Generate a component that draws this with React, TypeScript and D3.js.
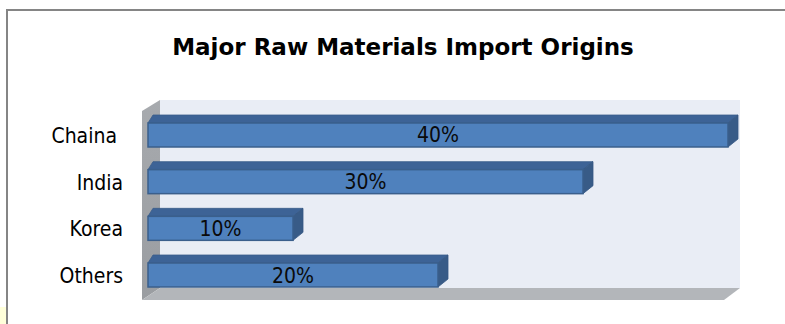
import React from "react";
import * as d3 from "d3";

const categories = ["Chaina ", "India", "Korea", "Others"];
const values = [40, 30, 10, 20];
const valueLabels = ["40%", "30%", "10%", "20%"];
const title = "Major Raw Materials Import Origins";
const xMax = 40;

const W = 785;
const H = 324;
const FONT = "'DejaVu Sans Condensed', 'DejaVu Sans', Tahoma, sans-serif";
const TITLE_FONT = "'DejaVu Sans', Tahoma, sans-serif";

export default function App() {
  const x = d3.scaleLinear().domain([0, xMax]).range([148, 728]);
  const y = d3.scaleBand<string>().domain(categories).range([123, 287]).paddingInner(0.486).paddingOuter(0);
  const bw = y.bandwidth();

  const wallLeft = 160;
  const wallRight = x(xMax) + 12;
  const wallTop = 100;
  const wallBottom = 288;
  const depthX = 18;
  const depthY = 12;

  const line = d3.line();

  const leftWall = line([
    [wallLeft - depthX, wallTop + 11],
    [wallLeft, wallTop],
    [wallLeft, wallBottom],
    [wallLeft - depthX, wallBottom + depthY],
  ]) + "Z";
  const floor = line([
    [wallLeft - depthX, wallBottom + depthY],
    [wallLeft, wallBottom],
    [wallRight, wallBottom],
    [wallRight - 16, wallBottom + depthY],
  ]) + "Z";

  return (
    <svg width={W} height={H} style={{ position: "absolute", left: 0, top: 0, background: "#fff" }}>
      <defs>
        <linearGradient id="lw" x1="0" y1="0" x2="0" y2="1">
          <stop offset="0" stopColor="#A7AAAE" />
          <stop offset="1" stopColor="#9A9DA1" />
        </linearGradient>
      </defs>
      <rect x={0} y={307} width={7} height={17} fill="#FFFFDA" />
      <rect x={7} y={10} width={800} height={400} fill="#fff" stroke="#858585" strokeWidth={2} />
      <text x={403} y={55} textAnchor="middle" fontFamily={TITLE_FONT} fontWeight="bold" fontSize={23} fill="#000">
        {title}
      </text>

      <rect x={wallLeft} y={wallTop} width={wallRight - wallLeft} height={wallBottom - wallTop} fill="#E9EDF5" />
      <path d={leftWall} fill="url(#lw)" />
      <path d={floor} fill="#B3B6BA" />

      {categories.map((c, i) => {
        const y0 = y(c)!;
        const x0 = x(0);
        const x1 = x(values[i]);
        const top = line([
          [x0, y0],
          [x0 + 5, y0 - 8],
          [x1 + 10, y0 - 8],
          [x1, y0],
        ]) + "Z";
        const side = line([
          [x1, y0],
          [x1 + 10, y0 - 8],
          [x1 + 10, y0 + bw - 8],
          [x1, y0 + bw],
        ]) + "Z";
        return (
          <g key={c}>
            <path d={top} fill="#3D6396" stroke="#3A5D8A" strokeWidth={0.8} />
            <path d={side} fill="#385B87" stroke="#355783" strokeWidth={0.8} />
            <rect x={x0} y={y0} width={x1 - x0} height={bw} fill="#4F81BD" stroke="#3A5F8C" strokeWidth={1.5} />
            <text
              x={(x0 + x1) / 2}
              y={y0 + bw / 2 + 7.5}
              textAnchor="middle"
              fontFamily={FONT}
              fontSize={21}
              fill="#0A0A0A"
            >
              {valueLabels[i]}
            </text>
            <text
              x={123}
              y={y0 + bw / 2 + 8}
              textAnchor="end"
              fontFamily={FONT}
              fontSize={21}
              fill="#000"
              style={{ whiteSpace: "pre" }}
            >
              {c}
            </text>
          </g>
        );
      })}
    </svg>
  );
}
